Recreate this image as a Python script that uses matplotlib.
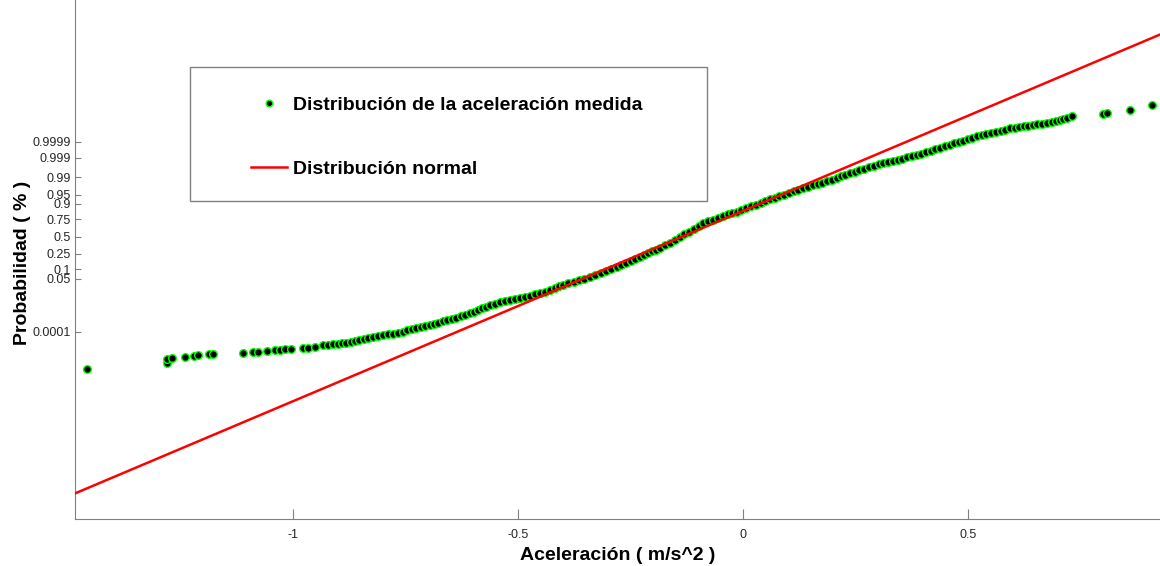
import math
import numpy as np
import matplotlib
matplotlib.use("Agg")
import matplotlib.pyplot as plt
from matplotlib.patches import Rectangle
from matplotlib.font_manager import FontProperties

plt.rcParams['font.family'] = ['Liberation Sans', 'DejaVu Sans']

# aceleracion medida (ordenada) y su cuantil normal (posicion en el eje de probabilidad)
aceleracion = [
    -1.459, -1.281, -1.281, -1.270, -1.241, -1.221, -1.212, -1.187, -1.179,
    -1.111, -1.090, -1.078, -1.059, -1.041, -1.030, -1.018, -1.004, -0.978, -0.967, -0.952, -0.933, -0.922,
    -0.911, -0.901, -0.892, -0.882, -0.872, -0.863, -0.853, -0.843, -0.833, -0.822,
    -0.811, -0.800, -0.789, -0.778, -0.767, -0.757, -0.747, -0.737, -0.727, -0.717,
    -0.707, -0.697, -0.688, -0.678, -0.668, -0.658, -0.648, -0.638, -0.628, -0.618,
    -0.608, -0.599, -0.589, -0.580, -0.572, -0.563, -0.552, -0.541,
    -0.530, -0.519, -0.508, -0.497, -0.486, -0.474, -0.463, -0.452, -0.441, -0.430,
    -0.419, -0.410, -0.400, -0.389, -0.377, -0.365, -0.353, -0.341, -0.329, -0.317,
    -0.305, -0.293, -0.281, -0.271, -0.261, -0.250, -0.240, -0.230, -0.221, -0.212,
    -0.203, -0.194, -0.185, -0.174, -0.163, -0.152, -0.141, -0.131, -0.120, -0.110,
    -0.099, -0.089, -0.078, -0.067, -0.056, -0.045, -0.034, -0.024, -0.015, -0.004,
    0.007, 0.018, 0.029, 0.039, 0.049, 0.059, 0.070, 0.080, 0.091, 0.101,
    0.112, 0.122, 0.133, 0.144, 0.154, 0.165, 0.176, 0.187, 0.197, 0.208,
    0.218, 0.227, 0.237, 0.248, 0.258, 0.269, 0.280, 0.290, 0.301, 0.311,
    0.322, 0.332, 0.343, 0.353, 0.364, 0.374, 0.385, 0.396, 0.406, 0.417,
    0.427, 0.438, 0.448, 0.459, 0.469, 0.479, 0.489, 0.499, 0.509, 0.519,
    0.530, 0.540, 0.551, 0.561, 0.572, 0.582, 0.593, 0.603, 0.613, 0.623,
    0.633, 0.643, 0.652, 0.663, 0.674, 0.685, 0.696, 0.704, 0.711, 0.720, 0.730,
    0.799, 0.808, 0.859, 0.908,
]
cuantil = [
    -5.19, -4.94, -4.81, -4.75, -4.71, -4.67, -4.64, -4.60, -4.59,
    -4.55, -4.53, -4.51, -4.48, -4.44, -4.43, -4.42, -4.39, -4.38, -4.36, -4.31, -4.26, -4.24,
    -4.22, -4.20, -4.18, -4.15, -4.13, -4.10, -4.06, -4.02, -3.98, -3.94,
    -3.91, -3.87, -3.83, -3.80, -3.76, -3.72, -3.67, -3.63, -3.59, -3.55,
    -3.51, -3.46, -3.42, -3.37, -3.32, -3.28, -3.23, -3.17, -3.12, -3.06,
    -3.00, -2.94, -2.87, -2.81, -2.75, -2.69, -2.63, -2.56,
    -2.52, -2.48, -2.43, -2.39, -2.35, -2.31, -2.26, -2.22, -2.15, -2.08,
    -2.01, -1.95, -1.89, -1.83, -1.77, -1.70, -1.64, -1.57, -1.49, -1.41,
    -1.34, -1.26, -1.18, -1.10, -1.02, -0.94, -0.86, -0.78, -0.71, -0.65,
    -0.58, -0.52, -0.45, -0.34, -0.24, -0.13, -0.02, 0.09, 0.20, 0.31,
    0.42, 0.53, 0.60, 0.67, 0.74, 0.80, 0.87, 0.93, 0.98, 1.05,
    1.12, 1.19, 1.26, 1.33, 1.40, 1.47, 1.53, 1.59, 1.65, 1.72,
    1.78, 1.84, 1.90, 1.96, 2.01, 2.07, 2.12, 2.18, 2.23, 2.29,
    2.36, 2.42, 2.49, 2.55, 2.60, 2.66, 2.72, 2.77, 2.83, 2.88,
    2.93, 2.97, 3.02, 3.06, 3.11, 3.15, 3.20, 3.26, 3.31, 3.37,
    3.43, 3.49, 3.54, 3.60, 3.66, 3.71, 3.77, 3.82, 3.88, 3.93,
    3.98, 4.02, 4.07, 4.11, 4.16, 4.20, 4.25, 4.27, 4.30, 4.32,
    4.35, 4.37, 4.40, 4.43, 4.46, 4.49, 4.52, 4.57, 4.62, 4.67, 4.72,
    4.80, 4.84, 4.97, 5.16,
]

# parametros de la normal ajustada
media = -0.136
desv = 0.134

prob_ticks = [0.0001, 0.05, 0.1, 0.25, 0.5, 0.75, 0.9, 0.95, 0.99, 0.999, 0.9999]
prob_labels = ['0.0001', '0.05', '0.1', '0.25', '0.5', '0.75', '0.9', '0.95', '0.99', '0.999', '0.9999']
x_ticks = [-1, -0.5, 0, 0.5]
x_labels = ['-1', '-0.5', '0', '0.5']


def norm_ppf(p):
    # inversa de la normal por biseccion
    lo, hi = -40.0, 40.0
    for _ in range(200):
        mid = 0.5 * (lo + hi)
        if 0.5 * math.erfc(-mid / math.sqrt(2)) < p:
            lo = mid
        else:
            hi = mid
    return 0.5 * (lo + hi)


W, H = 1160, 566
fig = plt.figure(figsize=(W / 100, H / 100), dpi=100)
ax = fig.add_axes([75 / W, 47 / H, 1085 / W, 519 / H])

ax.plot(aceleracion, cuantil, 'o', ls='none', ms=5.5, mfc='k', mec='#00ff00', mew=1.0,
        label='Distribución de la aceleración medida', zorder=2)

ax.set_xlim(-1.485, 0.926)
ax.set_ylim(-11.07, 9.28)

xx = np.array(ax.get_xlim())
ax.plot(xx, (xx - media) / desv, color='#ff0000', lw=1.8, label='Distribución normal', zorder=3)

ax.set_xticks(x_ticks)
ax.set_xticklabels(x_labels)
ax.set_yticks([norm_ppf(p) for p in prob_ticks])
ax.set_yticklabels(prob_labels)

for s in ['top', 'right']:
    ax.spines[s].set_visible(False)
for s in ['left', 'bottom']:
    ax.spines[s].set_color('#808080')
    ax.spines[s].set_linewidth(0.8)

ax.tick_params(axis='x', direction='in', length=7, color='#808080', labelcolor='#262626',
               labelsize=9, pad=7)
ax.tick_params(axis='y', direction='in', length=4.5, color='#808080', labelcolor='#262626',
               labelsize=9, pad=3)

ax.set_xlabel('Aceleración ( m/s^2 )', fontsize=14, fontweight='bold')
ax.set_ylabel('Probabilidad ( % )', fontsize=14, fontweight='bold')
ax.xaxis.set_label_coords(0.5, -0.054)
ax.yaxis.set_label_coords(-0.041, 0.494)

# caja de la leyenda
caja = Rectangle((190 / W, 1 - 201 / H), 517 / W, 134 / H, transform=fig.transFigure,
                 facecolor='white', edgecolor='#808080', lw=1.0, zorder=4)
ax.add_patch(caja)
caja.set_clip_on(False)

leg = ax.legend(frameon=False, loc='upper left', bbox_to_anchor=(251 / W, 1 - 96 / H),
                bbox_transform=fig.transFigure,
                prop=FontProperties(family='Liberation Sans', weight='bold', size=14),
                handlelength=1.86, handletextpad=0.31, labelspacing=2.42,
                borderpad=0, borderaxespad=0, markerscale=0.85)
leg.set_zorder(5)

fig.savefig('out.png', dpi=100)
